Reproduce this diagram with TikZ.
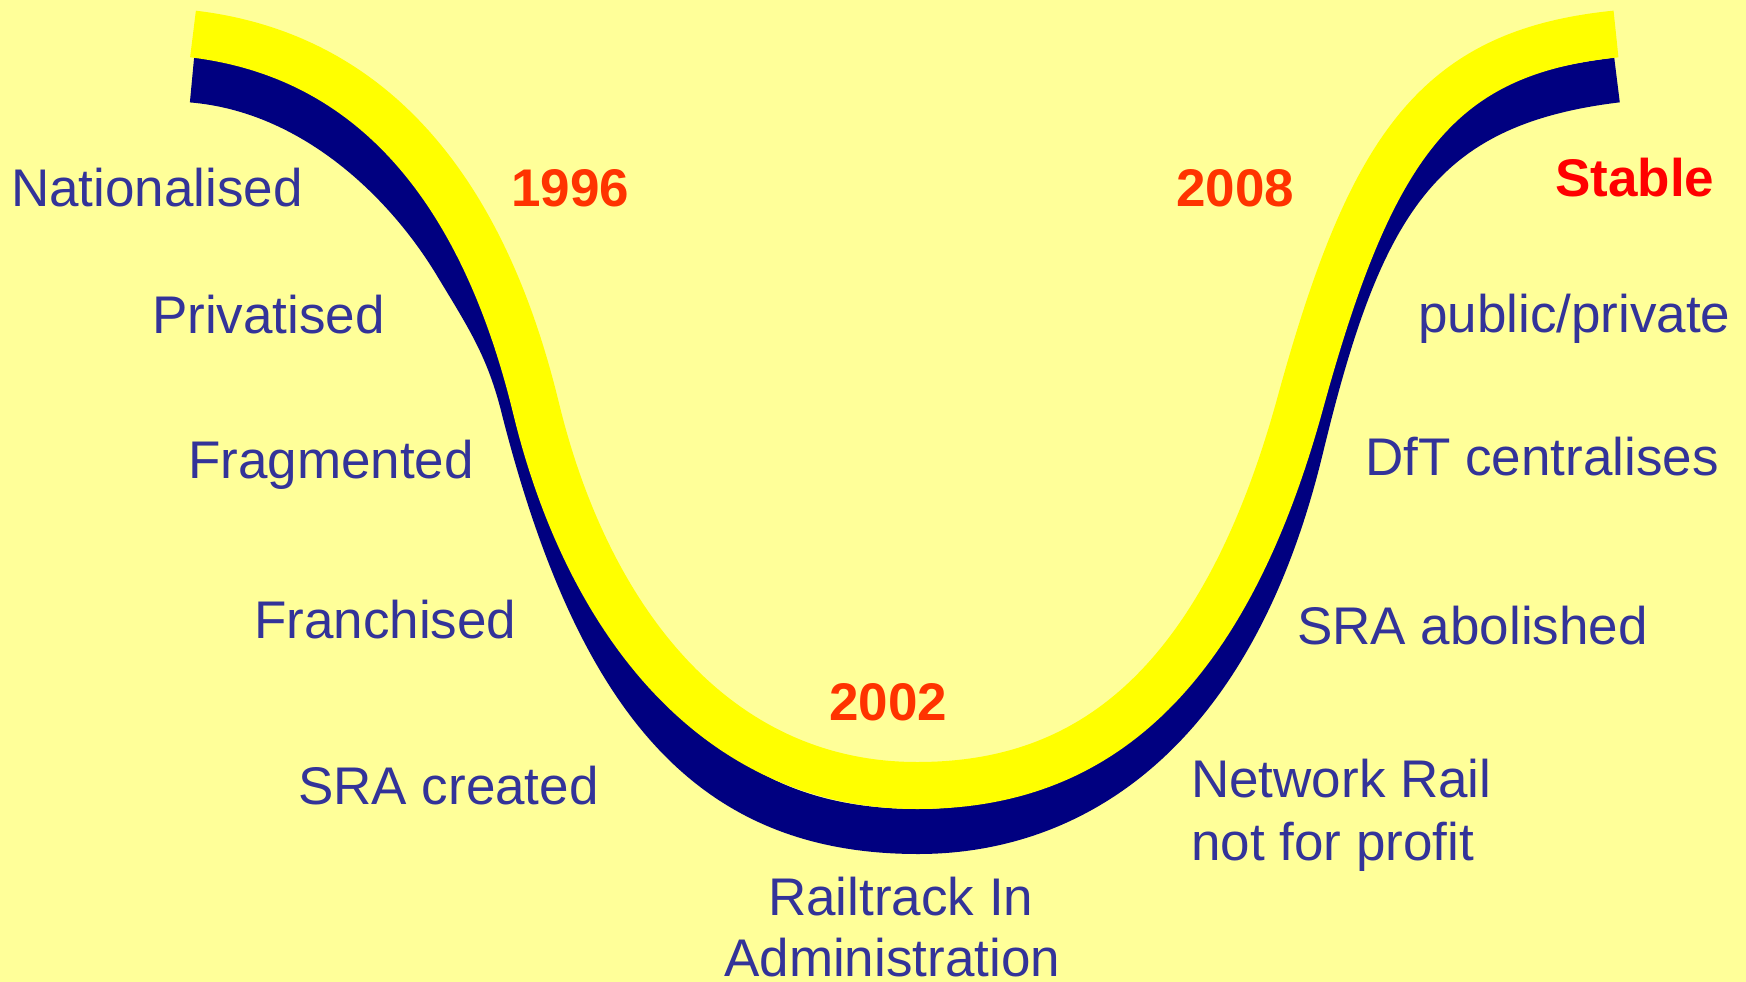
\documentclass[tikz,border=0pt]{standalone}
\usepackage{fontspec}
\setmainfont{Liberation Sans}
\definecolor{bgc}{HTML}{FFFF99}
\definecolor{bandyellow}{HTML}{FFFF00}
\definecolor{bandnavy}{HTML}{000080}
\definecolor{txtblue}{HTML}{333399}
\definecolor{yearred}{HTML}{FF3300}
\definecolor{stablered}{HTML}{FF0000}
\begin{document}
\begin{tikzpicture}[x=1pt,y=-1pt,
  lbl/.style={anchor=base west, inner sep=0pt, text=txtblue, font=\fontsize{53}{62}\selectfont},
  yearlbl/.style={anchor=base west, inner sep=0pt, text=yearred, font=\fontsize{53}{62}\selectfont\bfseries},
  stablelbl/.style={anchor=base west, inner sep=0pt, text=stablered, font=\fontsize{53}{62}\selectfont\bfseries},
  navyband/.style={draw=bandnavy, line width=45pt, line cap=butt},
  yellowband/.style={draw=bandyellow, line width=47pt, line cap=butt}]
\fill[bgc] (0,0) rectangle (1746,982);
\useasboundingbox (0,0) rectangle (1746,982);
% navy band (underneath)
\path[navyband] (192,80) .. controls (312,90) and (405,180) .. (455,262)
  .. controls (487,315) and (507,345) .. (522,402)
  .. controls (600,712.4) and (718,831.5) .. (918,831.5)
  .. controls (1068,831.5) and (1230.5,739.6) .. (1301,448)
  .. controls (1359.75,205) and (1418,104) .. (1617,80);
% yellow band (on top)
\path[yellowband] (193,34) .. controls (395,58) and (491,223) .. (536,408)
  .. controls (588,622) and (717,785.5) .. (917,785.5)
  .. controls (1067,785.5) and (1215,712.5) .. (1300,404)
  .. controls (1371.5,143.7) and (1437.8,52) .. (1616,34);
% labels
\node[lbl] (nat) at (11,206) {Nationalised};
\node[lbl] (priv) at (152,333) {Privatised};
\node[lbl] (frag) at (188,478) {Fragmented};
\node[lbl] (fran) at (254,638) {Franchised};
\node[lbl] (sra) at (298,804) {SRA created};
\node[lbl] (rail) at (768,915) {Railtrack In};
\node[lbl] (admin) at (724,976) {Administration};
\node[lbl] (nr) at (1191,797) {Network Rail};
\node[lbl] (nfp) at (1191,860) {not for profit};
\node[lbl] (sraab) at (1297,644) {SRA abolished};
\node[lbl] (dft) at (1365,475) {DfT centralises};
\node[lbl] (pp) at (1418,332) {public/private};
\node[yearlbl] (y96) at (511,206) {1996};
\node[yearlbl] (y02) at (829,720) {2002};
\node[yearlbl] (y08) at (1176,206) {2008};
\node[stablelbl] (stable) at (1555,196) {Stable};
\end{tikzpicture}
\end{document}
